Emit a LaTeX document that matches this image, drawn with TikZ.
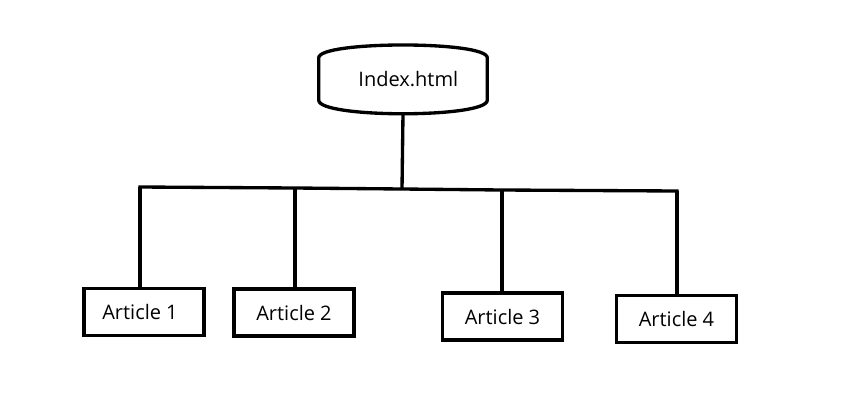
\documentclass[tikz,border=0pt]{standalone}
\usepackage{fontspec}
\setmainfont{Open Sans}
\usetikzlibrary{calc}
\begin{document}
\begin{tikzpicture}[x=0.75pt,y=-0.75pt,
  line/.style={line width=2.5pt},
  drop/.style={line width=2.6pt},
  artbox/.style={draw,line width=2.6pt,minimum width=90pt,minimum height=35.5pt,inner sep=0pt,font=\fontsize{15}{18}\selectfont},
  idxnode/.style={draw=none,minimum width=126pt,minimum height=51pt,inner sep=0pt,font=\fontsize{15}{18}\selectfont}]
\useasboundingbox[fill=white] (0,0) rectangle (862,400);
% top node
\node[idxnode] (idx) at (403,79) {\hspace*{8pt}Index.html};
\draw[line,line join=round]
  ($(idx.north west)+(0,13)$) .. controls ($(idx.north west)+(0,-4)$) and ($(idx.north east)+(0,-4)$) .. ($(idx.north east)+(0,13)$)
  -- ($(idx.south east)+(0,-13)$) .. controls ($(idx.south east)+(0,5)$) and ($(idx.south west)+(0,5)$) .. ($(idx.south west)+(0,-13)$)
  -- cycle;
% article boxes
\node[artbox] (a1) at (144,312) {\hspace*{-6pt}Article 1};
\node[artbox] (a2) at (294,312.5) {Article 2};
\node[artbox] (a3) at (502.5,316.5) {Article 3};
\node[artbox] (a4) at (676.5,319) {Article 4};
% bus coordinates
\coordinate (b1) at (140,187);
\coordinate (b2) at (295,188);
\coordinate (bm) at (402,189);
\coordinate (b3) at (502,190);
\coordinate (b4) at (677,191);
\draw[line] (idx.south) -- (bm);
\draw[line,line cap=rect] (b1) -- (b2) -- (bm) -- (b3) -- (b4);
\draw[drop] (b1) -- (b1 |- a1.north);
\draw[drop] (b2) -- (b2 |- a2.north);
\draw[drop] (b3) -- (b3 |- a3.north);
\draw[drop] (b4) -- (b4 |- a4.north);
\end{tikzpicture}
\end{document}
